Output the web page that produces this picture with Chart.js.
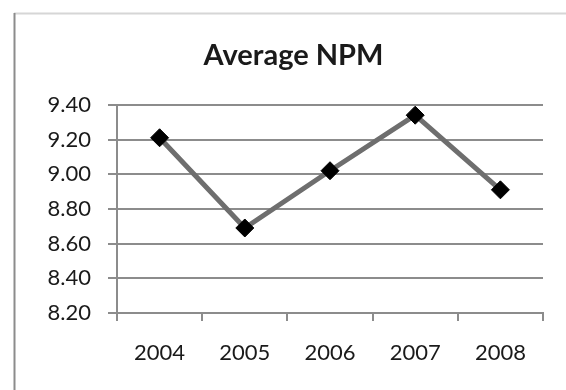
<!DOCTYPE html>
<html>
<head>
<meta charset="utf-8">
<script src="https://cdn.jsdelivr.net/npm/chart.js@4/dist/chart.umd.min.js"></script>
<style>
  html, body { margin: 0; padding: 0; background: #ffffff; }
  #wrap { position: relative; width: 566px; height: 390px; }
  canvas { display: block; }
</style>
</head>
<body>
<div id="wrap"><canvas id="chart" width="566" height="390"></canvas></div>
<script>
// Average net profit margin per year
const years = ['2004', '2005', '2006', '2007', '2008'];
const avgNPM = [9.21, 8.69, 9.02, 9.34, 8.91];
const yTicks = [8.20, 8.40, 8.60, 8.80, 9.00, 9.20, 9.40];

const FONT = 'Lato, "Open Sans", sans-serif';

// Outer chart frame: darker left edge, light top edge
const framePlugin = {
  id: 'frame',
  beforeDraw(chart) {
    const ctx = chart.ctx;
    ctx.save();
    ctx.lineWidth = 2;
    ctx.strokeStyle = '#d6d6d6';
    ctx.beginPath();
    ctx.moveTo(14, 13.5);
    ctx.lineTo(chart.width, 13.5);
    ctx.stroke();
    ctx.strokeStyle = '#8c8c8c';
    ctx.beginPath();
    ctx.moveTo(14.5, 13);
    ctx.lineTo(14.5, chart.height);
    ctx.stroke();
    ctx.restore();
  }
};

new Chart(document.getElementById('chart'), {
  type: 'line',
  data: {
    labels: years,
    datasets: [{
      label: 'Average NPM',
      data: avgNPM,
      borderColor: '#6e6e6e',
      borderWidth: 5,
      pointStyle: 'rectRot',
      pointRadius: 9,
      pointBackgroundColor: '#000000',
      pointBorderColor: '#000000',
      pointBorderWidth: 1,
      tension: 0
    }]
  },
  options: {
    responsive: false,
    animation: false,
    layout: { padding: { top: 38, right: 23, bottom: 0, left: 44 } },
    plugins: {
      legend: { display: false },
      tooltip: { enabled: false },
      title: {
        display: true,
        text: 'Average NPM',
        color: '#1a1a1a',
        font: { family: FONT, size: 29, weight: 'bold', lineHeight: 1.2 },
        padding: { top: 0, bottom: 32 }
      }
    },
    scales: {
      x: {
        type: 'category',
        offset: true,
        grid: {
          offset: true,
          drawOnChartArea: false,
          drawTicks: true,
          tickLength: 8,
          color: '#8c8c8c',
          lineWidth: 2
        },
        border: { display: true, color: '#8c8c8c', width: 2 },
        ticks: {
          color: '#1a1a1a',
          font: { family: FONT, size: 22 },
          padding: 19,
          maxRotation: 0
        },
        afterFit(scale) { scale.height = 77; }
      },
      y: {
        min: yTicks[0],
        max: yTicks[yTicks.length - 1],
        afterBuildTicks(scale) {
          scale.ticks = yTicks.map(v => ({ value: v }));
        },
        grid: {
          color: '#8c8c8c',
          lineWidth: 2,
          drawTicks: true,
          tickLength: 9
        },
        border: { display: true, color: '#8c8c8c', width: 2 },
        ticks: {
          color: '#1a1a1a',
          font: { family: FONT, size: 22 },
          padding: 17,
          callback: v => Number(v).toFixed(2)
        },
        afterFit(scale) { scale.width = 73; }
      }
    }
  },
  plugins: [framePlugin]
});
</script>
</body>
</html>
